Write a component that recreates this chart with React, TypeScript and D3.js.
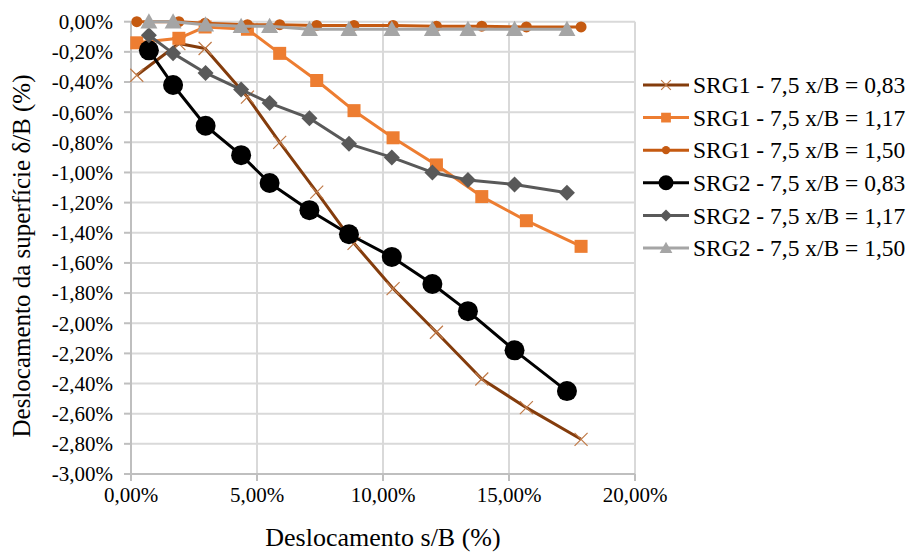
import React from "react";
import * as d3 from "d3";

const xSRG1 = [0.23, 1.9, 2.94, 4.62, 5.9, 7.37, 8.85, 10.4, 12.12, 13.92, 15.69, 17.86];
const xSRG2 = [0.71, 1.67, 2.96, 4.37, 5.5, 7.08, 8.65, 10.35, 11.96, 13.37, 15.22, 17.3];

const ySRG1_083 = [-0.355, -0.145, -0.178, -0.5, -0.8, -1.13, -1.47, -1.77, -2.06, -2.37, -2.56, -2.77];
const ySRG1_117 = [-0.14, -0.11, -0.035, -0.05, -0.21, -0.39, -0.59, -0.77, -0.95, -1.16, -1.32, -1.49];
const ySRG1_150 = [0, 0, -0.01, -0.02, -0.02, -0.025, -0.025, -0.025, -0.03, -0.03, -0.035, -0.035];
const ySRG2_083 = [-0.19, -0.42, -0.69, -0.885, -1.07, -1.25, -1.41, -1.56, -1.74, -1.92, -2.18, -2.45];
const ySRG2_117 = [-0.09, -0.21, -0.34, -0.45, -0.54, -0.64, -0.81, -0.9, -1.0, -1.05, -1.08, -1.135];
const ySRG2_150 = [0, 0, -0.02, -0.03, -0.03, -0.05, -0.05, -0.05, -0.05, -0.05, -0.05, -0.05];

const seriesNames = [
  "SRG1 - 7,5 x/B = 0,83",
  "SRG1 - 7,5 x/B = 1,17",
  "SRG1 - 7,5 x/B = 1,50",
  "SRG2 - 7,5 x/B = 0,83",
  "SRG2 - 7,5 x/B = 1,17",
  "SRG2 - 7,5 x/B = 1,50",
];

const xTicks = [0, 5, 10, 15, 20];
const yTicks = d3.range(0, 16).map((i) => -i * 0.2);

const fmt = (v: number) => {
  const s = Math.abs(v).toFixed(2).replace(".", ",") + "%";
  return (v < -1e-9 ? "-" : "") + s;
};

type Marker = "x" | "square" | "circleSmall" | "circleBig" | "diamond" | "triangle";

const seriesDefs: { name: string; xs: number[]; ys: number[]; color: string; marker: Marker; markerColor: string }[] = [
  { name: seriesNames[0], xs: xSRG1, ys: ySRG1_083, color: "#843c0c", marker: "x", markerColor: "#c07a48" },
  { name: seriesNames[1], xs: xSRG1, ys: ySRG1_117, color: "#ed7d31", marker: "square", markerColor: "#ed7d31" },
  { name: seriesNames[2], xs: xSRG1, ys: ySRG1_150, color: "#c55a11", marker: "circleSmall", markerColor: "#c55a11" },
  { name: seriesNames[3], xs: xSRG2, ys: ySRG2_083, color: "#000000", marker: "circleBig", markerColor: "#000000" },
  { name: seriesNames[4], xs: xSRG2, ys: ySRG2_117, color: "#595959", marker: "diamond", markerColor: "#595959" },
  { name: seriesNames[5], xs: xSRG2, ys: ySRG2_150, color: "#a5a5a5", marker: "triangle", markerColor: "#a5a5a5" },
];

function MarkerShape({ type, x, y, color, scale = 1 }: { type: Marker; x: number; y: number; color: string; scale?: number }) {
  switch (type) {
    case "x": {
      const s = 6.5 * scale;
      return (
        <path d={`M${x - s},${y - s}L${x + s},${y + s}M${x - s},${y + s}L${x + s},${y - s}`} stroke={color} strokeWidth={1.2} fill="none" />
      );
    }
    case "square": {
      const s = 6.5 * scale;
      return <rect x={x - s} y={y - s} width={2 * s} height={2 * s} fill={color} />;
    }
    case "circleSmall":
      return <circle cx={x} cy={y} r={5.5 * scale} fill={color} />;
    case "circleBig":
      return <circle cx={x} cy={y} r={10 * scale} fill={color} />;
    case "diamond": {
      const s = 8 * scale;
      return <path d={`M${x},${y - s}L${x + s},${y}L${x},${y + s}L${x - s},${y}Z`} fill={color} />;
    }
    case "triangle": {
      const s = 8.5 * scale;
      return <path d={`M${x},${y - s}L${x + s},${y + s * 0.8}L${x - s},${y + s * 0.8}Z`} fill={color} />;
    }
  }
  return null;
}

export default function App() {
  const W = 912;
  const H = 553;
  const x = d3.scaleLinear().domain([0, 20]).range([131, 635]);
  const y = d3.scaleLinear().domain([0, -3]).range([21.7, 474]);
  const line = d3.line<[number, number]>().x((d) => x(d[0])).y((d) => y(d[1]));
  const font = "'Liberation Serif', 'Times New Roman', serif";

  const legendY = d3.range(6).map((i) => 85 + i * 32.6);

  return (
    <svg width={W} height={H} style={{ position: "absolute", left: 0, top: 0, background: "#fff" }} fontFamily={font}>
      <rect width={W} height={H} fill="#fff" />
      {yTicks.map((t) => (
        <line key={"gy" + t} x1={x(0)} x2={x(20)} y1={y(t)} y2={y(t)} stroke="#d9d9d9" strokeWidth={2} />
      ))}
      {xTicks.map((t) => (
        <line key={"gx" + t} x1={x(t)} x2={x(t)} y1={y(0)} y2={y(-3)} stroke="#d9d9d9" strokeWidth={2} />
      ))}
      <line x1={x(0)} x2={x(0)} y1={y(0)} y2={y(-3)} stroke="#bfbfbf" strokeWidth={2} />
      <line x1={x(0)} x2={x(20)} y1={y(-3)} y2={y(-3)} stroke="#bfbfbf" strokeWidth={2} />
      {yTicks.map((t) => (
        <line key={"ty" + t} x1={x(0) - 7} x2={x(0)} y1={y(t)} y2={y(t)} stroke="#bfbfbf" strokeWidth={2} />
      ))}
      {xTicks.map((t) => (
        <line key={"tx" + t} x1={x(t)} x2={x(t)} y1={y(-3)} y2={y(-3) + 7} stroke="#bfbfbf" strokeWidth={2} />
      ))}
      {yTicks.map((t) => (
        <text key={"ly" + t} x={113} y={y(t)} dy="0.35em" textAnchor="end" fontSize={21} fill="#000">
          {fmt(t)}
        </text>
      ))}
      {xTicks.map((t) => (
        <text key={"lx" + t} x={x(t)} y={502} textAnchor="middle" fontSize={21} fill="#000">
          {fmt(t)}
        </text>
      ))}
      <text x={383} y={546} textAnchor="middle" fontSize={26} fill="#000">
        Deslocamento s/B (%)
      </text>
      <text transform={`translate(30,256) rotate(-90)`} textAnchor="middle" fontSize={25} fill="#000">
        Deslocamento da superfície δ/B (%)
      </text>
      {seriesDefs.map((s, si) => {
        const pts = s.xs.map((v, i) => [v, s.ys[i]] as [number, number]);
        return (
          <g key={"s" + si}>
            <path d={line(pts) || ""} fill="none" stroke={s.color} strokeWidth={3} strokeLinejoin="round" />
            {pts.map((p, i) => (
              <MarkerShape key={i} type={s.marker} x={x(p[0])} y={y(p[1])} color={s.markerColor} />
            ))}
          </g>
        );
      })}
      {seriesDefs.map((s, i) => (
        <g key={"lg" + i}>
          <line x1={643} x2={689} y1={legendY[i]} y2={legendY[i]} stroke={s.color} strokeWidth={3} />
          <MarkerShape type={s.marker} x={666} y={legendY[i]} color={s.markerColor} scale={0.75} />
          <text x={693} y={legendY[i]} dy="0.35em" fontSize={23.5} fill="#000">
            {s.name}
          </text>
        </g>
      ))}
    </svg>
  );
}
